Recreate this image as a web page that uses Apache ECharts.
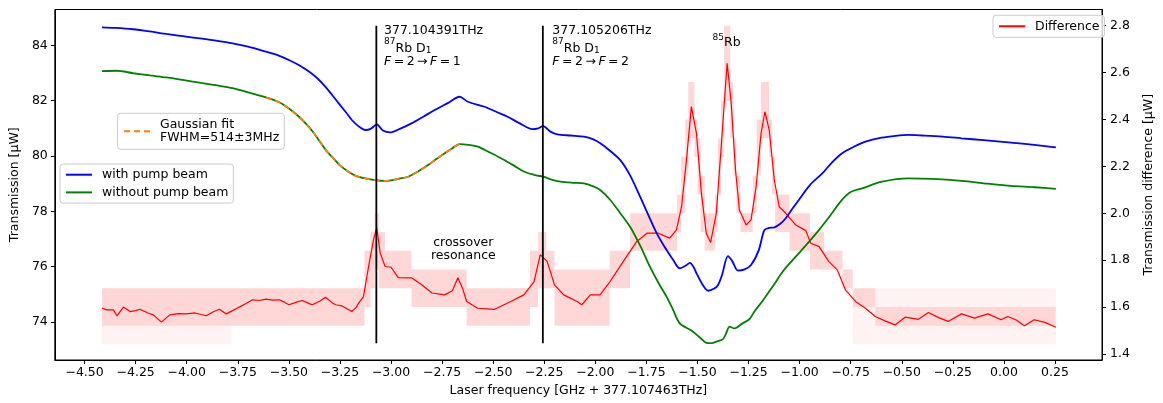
<!DOCTYPE html>
<html><head><meta charset="utf-8">
<script src="https://cdn.jsdelivr.net/npm/echarts@6/dist/echarts.min.js"></script>
<style>html,body{margin:0;padding:0;background:#fff}#c{width:1163px;height:403px}</style>
</head><body><div id="c"></div>
<script>
// ---------- data ----------
const xTicks = [-4.5,-4.25,-4.0,-3.75,-3.5,-3.25,-3.0,-2.75,-2.5,-2.25,-2.0,-1.75,-1.5,-1.25,-1.0,-0.75,-0.5,-0.25,0.0,0.25];
const leftTicks = [74,76,78,80,82,84];
const rightTicks = [1.4,1.6,1.8,2.0,2.2,2.4,2.6,2.8];

const pumpX = [-4.415,-4.35,-4.263,-4.18,-4.10,-4.02,-3.937,-3.85,-3.776,-3.70,-3.613,-3.55,-3.50,-3.45,-3.402,-3.36,-3.321,-3.29,-3.256,-3.22,-3.192,-3.16,-3.126,-3.10,-3.07,-3.04,-3.005,-2.96,-2.90,-2.84,-2.786,-2.72,-2.665,-2.624,-2.543,-2.48,-2.43,-2.37,-2.308,-2.28,-2.256,-2.22,-2.186,-2.12,-2.056,-2.01,-1.976,-1.93,-1.878,-1.83,-1.781,-1.74,-1.70,-1.66,-1.619,-1.587,-1.555,-1.538,-1.52,-1.505,-1.475,-1.448,-1.42,-1.40,-1.38,-1.351,-1.33,-1.302,-1.27,-1.238,-1.20,-1.173,-1.15,-1.124,-1.095,-1.068,-1.035,-1.003,-0.95,-0.889,-0.84,-0.792,-0.73,-0.678,-0.60,-0.53,-0.468,-0.40,-0.30,-0.208,-0.10,0.035,0.15,0.254];
const pumpY = [84.65,84.63,84.58,84.50,84.41,84.33,84.25,84.16,84.07,83.95,83.77,83.63,83.47,83.28,83.05,82.80,82.50,82.22,81.90,81.57,81.30,81.08,80.94,80.98,81.14,80.92,80.85,80.97,81.18,81.43,81.66,81.92,82.14,81.96,81.78,81.58,81.42,81.18,80.97,81.00,81.08,80.88,80.78,80.74,80.70,80.60,80.46,80.20,79.85,79.30,78.53,77.85,77.21,76.70,76.24,75.94,76.05,76.14,76.00,75.76,75.35,75.13,75.20,75.33,75.70,76.38,76.20,75.86,75.90,76.06,76.60,77.32,77.40,77.42,77.55,77.75,78.10,78.42,78.95,79.37,79.78,80.10,80.35,80.52,80.66,80.73,80.76,80.74,80.70,80.64,80.57,80.48,80.40,80.31];

const noPumpX = [-4.415,-4.342,-4.262,-4.18,-4.10,-4.02,-3.937,-3.85,-3.775,-3.70,-3.613,-3.55,-3.50,-3.46,-3.418,-3.38,-3.354,-3.32,-3.289,-3.25,-3.208,-3.17,-3.126,-3.08,-3.029,-3.00,-2.96,-2.916,-2.87,-2.819,-2.78,-2.737,-2.70,-2.665,-2.62,-2.575,-2.52,-2.462,-2.40,-2.348,-2.30,-2.256,-2.21,-2.17,-2.11,-2.056,-2.01,-1.976,-1.927,-1.88,-1.83,-1.78,-1.733,-1.69,-1.651,-1.62,-1.587,-1.53,-1.49,-1.457,-1.43,-1.408,-1.375,-1.36,-1.343,-1.319,-1.28,-1.246,-1.222,-1.18,-1.132,-1.08,-1.019,-0.96,-0.905,-0.85,-0.792,-0.75,-0.695,-0.597,-0.468,-0.35,-0.208,-0.08,0.035,0.15,0.254];
const noPumpY = [83.07,83.08,82.99,82.91,82.84,82.75,82.65,82.55,82.45,82.30,82.12,81.95,81.72,81.48,81.18,80.85,80.58,80.22,79.97,79.66,79.43,79.27,79.19,79.13,79.10,79.12,79.18,79.25,79.43,79.67,79.88,80.10,80.28,80.43,80.40,80.34,80.14,79.92,79.66,79.43,79.32,79.25,79.14,79.07,79.03,79.01,78.90,78.77,78.41,77.95,77.44,76.75,76.00,75.40,74.91,74.45,73.95,73.69,73.45,73.25,73.24,73.29,73.38,73.59,73.83,73.77,73.95,74.10,74.37,74.78,75.28,75.85,76.36,76.85,77.33,77.85,78.42,78.70,78.83,79.07,79.19,79.17,79.10,79.00,78.92,78.87,78.81];

const fitX = [-3.613,-3.55,-3.50,-3.46,-3.418,-3.38,-3.354,-3.32,-3.289,-3.25,-3.208,-3.17,-3.126,-3.08,-3.029,-3.00,-2.96,-2.916,-2.87,-2.819,-2.78,-2.737,-2.70,-2.665];
const fitY = [82.12,81.95,81.72,81.48,81.18,80.85,80.58,80.22,79.97,79.66,79.43,79.27,79.19,79.13,79.10,79.12,79.18,79.25,79.43,79.67,79.88,80.10,80.28,80.43];

const diffX = [-4.415,-4.39,-4.359,-4.342,-4.31,-4.278,-4.25,-4.229,-4.19,-4.164,-4.124,-4.083,-4.04,-4.002,-3.96,-3.905,-3.87,-3.84,-3.807,-3.775,-3.743,-3.71,-3.678,-3.645,-3.613,-3.58,-3.548,-3.52,-3.50,-3.46,-3.435,-3.40,-3.386,-3.35,-3.321,-3.29,-3.272,-3.24,-3.21,-3.192,-3.17,-3.159,-3.135,-3.11,-3.086,-3.07,-3.053,-3.029,-3.00,-2.965,-2.90,-2.85,-2.80,-2.738,-2.70,-2.673,-2.65,-2.63,-2.576,-2.495,-2.414,-2.35,-2.30,-2.27,-2.236,-2.20,-2.155,-2.09,-2.066,-2.025,-1.977,-1.928,-1.863,-1.798,-1.748,-1.692,-1.636,-1.603,-1.578,-1.554,-1.530,-1.505,-1.481,-1.457,-1.436,-1.408,-1.384,-1.355,-1.335,-1.314,-1.295,-1.262,-1.238,-1.213,-1.189,-1.170,-1.149,-1.124,-1.100,-1.068,-1.019,-0.970,-0.946,-0.905,-0.857,-0.816,-0.776,-0.727,-0.678,-0.630,-0.58,-0.533,-0.484,-0.419,-0.370,-0.32,-0.273,-0.208,-0.144,-0.079,-0.014,0.018,0.06,0.100,0.148,0.20,0.254];
const diffY = [1.595,1.588,1.588,1.563,1.600,1.581,1.585,1.591,1.575,1.567,1.536,1.567,1.572,1.571,1.575,1.563,1.580,1.591,1.571,1.585,1.600,1.615,1.631,1.628,1.634,1.630,1.631,1.620,1.610,1.622,1.628,1.615,1.610,1.625,1.642,1.620,1.610,1.605,1.590,1.581,1.600,1.617,1.645,1.773,1.887,1.938,1.830,1.773,1.770,1.726,1.725,1.695,1.660,1.652,1.670,1.725,1.680,1.624,1.595,1.590,1.624,1.652,1.709,1.823,1.795,1.695,1.652,1.624,1.610,1.652,1.652,1.709,1.795,1.879,1.915,1.915,1.894,1.929,2.028,2.228,2.455,2.341,2.086,1.915,1.875,2.000,2.284,2.640,2.469,2.185,2.014,1.950,1.972,2.114,2.341,2.433,2.355,2.142,2.028,2.000,1.950,1.926,1.872,1.858,1.794,1.759,1.673,1.624,1.595,1.560,1.540,1.524,1.557,1.548,1.577,1.555,1.539,1.571,1.553,1.571,1.546,1.560,1.545,1.520,1.546,1.535,1.514];

// raw (unsmoothed, quantised) difference: envelope per x segment [x0, x1]
const rawX0 = [-4.415,-3.78,-3.34,-3.13,-3.10,-3.08,-3.06,-3.03,-2.90,-2.63,-2.32,-2.28,-2.24,-2.20,-1.93,-1.83,-1.60,-1.58,-1.56,-1.545,-1.515,-1.50,-1.485,-1.465,-1.415,-1.40,-1.385,-1.37,-1.34,-1.325,-1.31,-1.29,-1.23,-1.21,-1.19,-1.15,-1.135,-1.12,-1.05,-0.95,-0.88,-0.79,-0.74,-0.63];
const rawX1 = [-3.78,-3.34,-3.13,-3.10,-3.08,-3.06,-3.03,-2.90,-2.63,-2.32,-2.28,-2.24,-2.20,-1.93,-1.83,-1.60,-1.58,-1.56,-1.545,-1.515,-1.50,-1.485,-1.465,-1.415,-1.40,-1.385,-1.37,-1.34,-1.325,-1.31,-1.29,-1.23,-1.21,-1.19,-1.15,-1.135,-1.12,-1.05,-0.95,-0.88,-0.79,-0.74,-0.63,0.254];
const rawLo = [1.52,1.52,1.52,1.60,1.68,1.76,1.68,1.68,1.60,1.52,1.60,1.68,1.68,1.52,1.68,1.84,1.92,2.00,2.16,2.32,2.24,2.08,1.92,1.84,1.92,2.08,2.24,2.48,2.32,2.16,2.00,1.92,2.00,2.16,2.32,2.24,2.08,1.92,1.84,1.76,1.76,1.68,1.60,1.52];
const rawHi = [1.68,1.68,1.68,1.84,1.92,2.00,1.92,1.84,1.76,1.68,1.84,1.92,1.84,1.76,1.84,2.00,2.08,2.24,2.40,2.56,2.40,2.32,2.16,2.00,2.08,2.32,2.48,2.80,2.56,2.32,2.16,2.00,2.16,2.40,2.56,2.40,2.24,2.08,2.00,1.92,1.84,1.76,1.68,1.60];
const rawMin = [1.44,1.52,1.52,1.60,1.68,1.76,1.68,1.68,1.60,1.52,1.60,1.68,1.68,1.52,1.68,1.84,1.92,2.00,2.16,2.32,2.24,2.08,1.92,1.84,1.92,2.08,2.24,2.48,2.32,2.16,2.00,1.92,2.00,2.16,2.32,2.24,2.08,1.92,1.84,1.76,1.76,1.68,1.44,1.44];
const rawMax = [1.68,1.68,1.68,1.84,1.92,2.00,1.92,1.84,1.76,1.68,1.84,1.92,1.84,1.76,1.84,2.00,2.08,2.24,2.40,2.56,2.40,2.32,2.16,2.00,2.08,2.32,2.48,2.80,2.56,2.32,2.16,2.00,2.16,2.40,2.56,2.40,2.24,2.08,2.00,1.92,1.84,1.76,1.68,1.68];

const markerX = [-3.072, -2.257];
const markerRange = [73.23, 84.71];

const legendDiff = 'Difference';
const legendFit = 'Gaussian fit';
const legendFitText = 'Gaussian fit\nFWHM=514±3MHz';
const legendPump = 'with pump beam';
const legendNoPump = 'without pump beam';

// ---------- build ----------
const zip = (a, b) => a.map((v, i) => [v, b[i]]);
const rawCore = rawLo.map((v, i) => [rawX0[i], rawX1[i], v, rawHi[i]]);
const rawOuter = rawMin.map((v, i) => [rawX0[i], rawX1[i], v, rawMax[i]]);
const FONT = '"DejaVu Sans", sans-serif';

function bandSeries(data, fill) {
  return {
    type: 'custom', xAxisIndex: 0, yAxisIndex: 1, silent: true, z: 1,
    encode: { x: [0, 1], y: [2, 3] },
    data: data,
    clip: true,
    renderItem: function (params, api) {
      const p0 = api.coord([api.value(0), api.value(3)]);
      const p1 = api.coord([api.value(1), api.value(2)]);
      return { type: 'rect', shape: { x: p0[0], y: p0[1], width: p1[0] - p0[0], height: p1[1] - p0[1] },
        style: { fill: fill } };
    }
  };
}

const mctx = document.createElement('canvas').getContext('2d');
function runs(x0, parts) {
  let x = x0; const els = [];
  parts.forEach(p => {
    const font = (p[3] ? 'italic ' : '') + p[1] + 'px ' + FONT;
    mctx.font = font;
    els.push({ type: 'text', x: x, y: p[2], silent: true, z: 100,
      style: { text: p[0], font: font, fill: '#000', align: 'left', verticalAlign: 'middle' } });
    x += mctx.measureText(p[0]).width;
  });
  return els;
}
function annot(x0, freq, fTo) {
  return [].concat(
    runs(x0, [[freq, 12.5, 30.8]]),
    runs(x0, [['87', 9, 41.8], ['Rb D', 12.5, 48.3], ['1', 9, 50.8]]),
    runs(x0, [['F', 12.5, 61.3, true], ['\u2009=\u20092\u2009\u2192\u2009', 12.5, 61.3], ['F', 12.5, 61.3, true], ['\u2009=\u2009' + fTo, 12.5, 61.3]])
  );
}

const graphics = [].concat(
  annot(384, '377.104391THz', '1'),
  annot(552.3, '377.105206THz', '2'),
  runs(712.5, [['85', 9, 37.5], ['Rb', 12.5, 42.4]]),
  [{ type: 'text', x: 463.3, y: 249, silent: true, z: 100,
     style: { text: 'crossover\nresonance', font: '12.5px ' + FONT, lineHeight: 13.5, fill: '#000', align: 'center', verticalAlign: 'middle' } }]
);

const tickStyle = { show: true, length: 4, lineStyle: { color: '#000', width: 1 } };
const lblStyle = { color: '#000', fontSize: 12.5, fontFamily: FONT };
const legendBase = {
  orient: 'vertical', selectedMode: false, itemWidth: 26, itemHeight: 14,
  backgroundColor: 'rgba(255,255,255,0.8)', borderColor: '#cccccc', borderWidth: 1, borderRadius: 3,
  itemStyle: { opacity: 0, borderWidth: 0 },
  textStyle: { color: '#000', fontSize: 12.5, fontFamily: FONT, padding: [0, 0, 0, 5] }
};

const chart = echarts.init(document.getElementById('c'), null, { renderer: 'canvas' });
chart.setOption({
  animation: false,
  backgroundColor: '#fff',
  grid: { left: 54, right: 54, top: 9.5, bottom: 43, show: true, borderColor: '#000', borderWidth: 1, backgroundColor: 'transparent' },
  xAxis: {
    type: 'value', min: -4.6458, max: 0.4799,
    splitLine: { show: false },
    axisLine: { show: true, onZero: false, lineStyle: { color: '#000', width: 1 } },
    axisTick: Object.assign({ customValues: xTicks }, tickStyle),
    axisLabel: Object.assign({ customValues: xTicks, margin: 6, formatter: v => v.toFixed(2).replace('-', '\u2212') }, lblStyle),
    name: 'Laser frequency [GHz + 377.107463THz]', nameLocation: 'middle', nameGap: 24,
    nameTextStyle: lblStyle
  },
  yAxis: [{
    type: 'value', position: 'left', min: 72.627, max: 85.294,
    splitLine: { show: false },
    axisLine: { show: true, onZero: false, lineStyle: { color: '#000', width: 1 } },
    axisTick: Object.assign({ customValues: leftTicks }, tickStyle),
    axisLabel: Object.assign({ customValues: leftTicks, margin: 7, formatter: v => String(Math.round(v)) }, lblStyle),
    name: 'Transmission [µW]', nameLocation: 'middle', nameRotate: 90, nameGap: 31,
    nameTextStyle: lblStyle
  }, {
    type: 'value', position: 'right', min: 1.3744, max: 2.869,
    splitLine: { show: false },
    axisLine: { show: true, onZero: false, lineStyle: { color: '#000', width: 1 } },
    axisTick: Object.assign({ customValues: rightTicks }, tickStyle),
    axisLabel: Object.assign({ customValues: rightTicks, margin: 8, formatter: v => v.toFixed(1) }, lblStyle),
    name: 'Transmission difference [µW]', nameLocation: 'middle', nameRotate: 90, nameGap: 40,
    nameTextStyle: lblStyle
  }],
  legend: [
    Object.assign({}, legendBase, { data: [legendDiff], left: 993, top: 15.3, padding: [4.5, 5, 4.5, 5] }),
    Object.assign({}, legendBase, { data: [legendFit], left: 117.5, top: 113.3, padding: [4.3, 5, 4.3, 5.5],
      formatter: () => legendFitText, textStyle: Object.assign({}, legendBase.textStyle, { lineHeight: 13.7 }) }),
    Object.assign({}, legendBase, { data: [legendPump, legendNoPump], left: 60, top: 164, itemGap: 4.7, padding: [4.2, 5, 4.2, 5] })
  ],
  graphic: graphics,
  series: [
    bandSeries(rawOuter, 'rgba(255,0,0,0.05)'),
    bandSeries(rawCore, 'rgba(255,0,0,0.11)'),
    { name: legendDiff, type: 'line', xAxisIndex: 0, yAxisIndex: 1, data: zip(diffX, diffY), symbol: 'none', z: 3,
      lineStyle: { color: '#ff0000', width: 1.2 }, itemStyle: { color: '#ff0000' } },
    { name: legendPump, type: 'line', yAxisIndex: 0, data: zip(pumpX, pumpY), symbol: 'none', z: 4, smooth: 0.3,
      lineStyle: { color: '#0000ff', width: 1.8 }, itemStyle: { color: '#0000ff' } },
    { name: legendNoPump, type: 'line', yAxisIndex: 0, data: zip(noPumpX, noPumpY), symbol: 'none', z: 4, smooth: 0.3,
      lineStyle: { color: '#008000', width: 1.8 }, itemStyle: { color: '#008000' } },
    { name: legendFit, type: 'line', yAxisIndex: 0, data: zip(fitX, fitY), symbol: 'none', z: 5, smooth: 0.3,
      lineStyle: { color: '#ff7f0e', width: 1.8, type: [6, 4] }, itemStyle: { color: '#ff7f0e' } },
    { name: 'marker1', type: 'line', yAxisIndex: 0, data: [[markerX[0], markerRange[0]], [markerX[0], markerRange[1]]], symbol: 'none', z: 6,
      lineStyle: { color: '#000', width: 1.8 } },
    { name: 'marker2', type: 'line', yAxisIndex: 0, data: [[markerX[1], markerRange[0]], [markerX[1], markerRange[1]]], symbol: 'none', z: 6,
      lineStyle: { color: '#000', width: 1.8 } }
  ]
});
</script></body></html>
